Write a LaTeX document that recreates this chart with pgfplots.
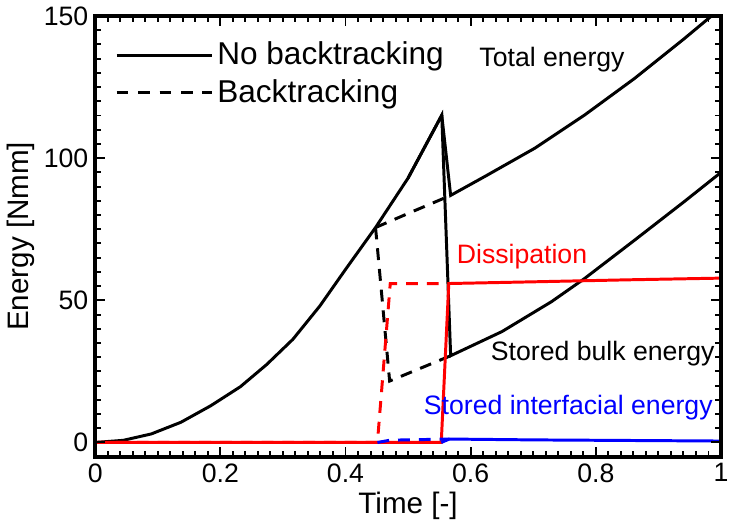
\documentclass[border=0pt]{standalone}
\usepackage{fontspec}
\setmainfont{Liberation Sans}
\usepackage{pgfplots}
\pgfplotsset{compat=1.18}
\begin{document}
\begin{tikzpicture}
\begin{axis}[
  scale only axis, width=316bp, height=222.5bp,
  xmin=0, xmax=1, ymin=-5, ymax=150,
  ticks=both,
  xtick={0,0.2,0.4,0.6,0.8,1}, ytick={0,50,100,150},
  minor xtick={0.02,0.04,...,0.98}, minor ytick={-5,5,10,15,20,25,30,35,40,45,55,60,65,70,75,80,85,90,95,105,110,115,120,125,130,135,140,145},
  tick align=inside, tick pos=both,
  major tick length=5bp, minor tick length=3bp,
  xtick style={black, line width=1bp}, ytick style={black, line width=1bp},
  axis line style={line width=2bp},
  axis on top,
  tick label style={font=\fontsize{13.5}{15}\selectfont},
  /pgf/number format/assume math mode=true,
  xlabel={Time [-]}, ylabel={Energy [Nmm]},
  label style={font=\fontsize{15}{17}\selectfont},
  xlabel style={yshift=2bp}, ylabel style={yshift=-2bp},
  legend style={draw=none, fill=none, at={(0,1)}, anchor=north west,
    xshift=8bp, yshift=-9bp, font=\fontsize{16}{18}\selectfont,
    row sep=2bp, inner sep=2bp},
  legend cell align=left,
  legend image code/.code={\draw[#1] (0bp,0bp) -- (43.5bp,0bp); \path (0bp,0bp) -- (48bp,0bp);},
]
\addlegendimage{black, line width=1.5bp}
\addlegendentry{No backtracking}
\addlegendimage{black, line width=1.5bp, dash pattern=on 5.8bp off 5bp}
\addlegendentry{Backtracking}

% Total energy, no backtracking
\addplot[black, line width=1.5bp, forget plot] coordinates {
(0,0) (0.045,0.75) (0.0897,3.0) (0.137,7.1) (0.1846,12.9) (0.232,19.6)
(0.274,27.4) (0.316,36.3) (0.359,48.0) (0.4008,61.1) (0.448,75.6) (0.5,93)
(0.5538,115.1) (0.568,86.9) (0.623,93.6) (0.7025,103.5) (0.7816,115.1)
(0.861,127.9) (0.94,141.8) (1.0,152.8)};
% Stored bulk energy, no backtracking
\addplot[black, line width=1.5bp, forget plot] coordinates {
(0.5,93) (0.5538,115.1) (0.568,30.5) (0.65,39.0) (0.729,49.5) (0.7816,57.6)
(0.861,71.0) (0.94,84.5) (1.0,95.0)};
% Backtracking total and bulk
\addplot[black, line width=1.5bp, dash pattern=on 6bp off 4.5bp, forget plot] coordinates {
(0.448,75.6) (0.507,81.2) (0.568,86.9)};
\addplot[black, line width=1.5bp, dash pattern=on 6bp off 4.5bp, forget plot] coordinates {
(0.448,75.6) (0.4705,21.6) (0.568,30.5)};
% Dissipation
\addplot[red, line width=1.5bp, forget plot] coordinates {
(0,0) (0.553,0) (0.565,55.9) (0.7,56.5) (0.85,57.2) (1,57.8)};
\addplot[red, line width=1.5bp, dash pattern=on 6bp off 4.5bp, forget plot] coordinates {
(0,0) (0.451,0) (0.4715,55.9) (0.565,55.9)};
% Stored interfacial energy
\addplot[blue, line width=1.5bp, dash pattern=on 6bp off 4.5bp, forget plot] coordinates {
(0.451,0) (0.4715,0.8) (0.566,1.2)};
\addplot[blue, line width=1.5bp, forget plot] coordinates {
(0.553,0) (0.566,1.2) (0.7,0.9) (0.85,0.7) (1,0.5)};

\node[font=\fontsize{13.5}{15}\selectfont] at (axis cs:0.730,134.8) {Total energy};
\node[font=\fontsize{13.5}{15}\selectfont, text=red] at (axis cs:0.682,65.2) {Dissipation};
\node[font=\fontsize{13.5}{15}\selectfont] at (axis cs:0.811,31.4) {Stored bulk energy};
\node[font=\fontsize{13.5}{15}\selectfont, text=blue] at (axis cs:0.756,12.2) {Stored interfacial energy};
\end{axis}
\end{tikzpicture}
\end{document}
